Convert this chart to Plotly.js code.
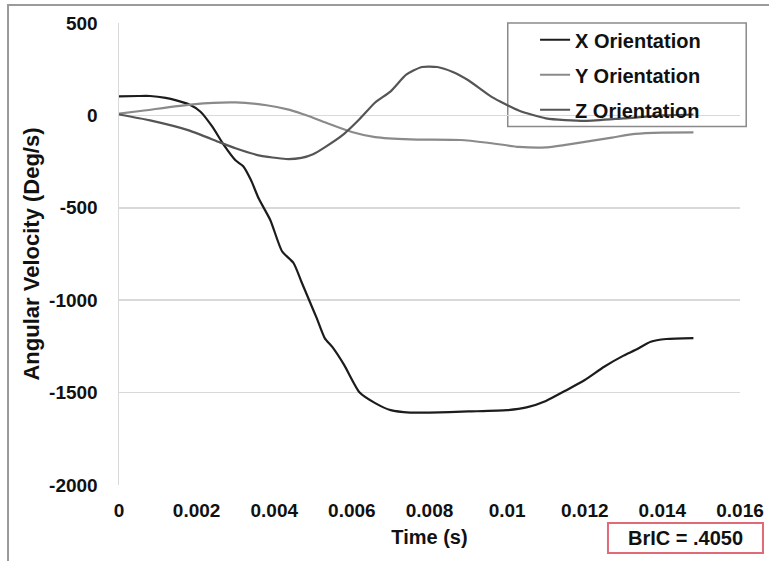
<!DOCTYPE html>
<html>
<head>
<meta charset="utf-8">
<script src="https://cdn.plot.ly/plotly-3.0.1.min.js"></script>
<style>html,body{margin:0;padding:0;background:#fff;}#chart{width:769px;height:561px;}</style>
</head>
<body>
<div id="chart"></div>
<script>
// Time (s)
const tX = [0, 0.0005, 0.0008, 0.0012, 0.0015, 0.0018, 0.0021, 0.0024, 0.0027, 0.0030, 0.0032, 0.0034, 0.0036, 0.0039, 0.0042, 0.0045, 0.0047, 0.0049, 0.0051, 0.0053, 0.0055, 0.0058, 0.0062, 0.0066, 0.0070, 0.0075, 0.0080, 0.0090, 0.0100, 0.0105, 0.0110, 0.0115, 0.0120, 0.0125, 0.0130, 0.0133, 0.0137, 0.0141, 0.0148];
const xOrientation = [103, 105, 105, 95, 80, 60, 20, -60, -160, -243, -275, -350, -450, -567, -735, -800, -900, -1000, -1100, -1205, -1254, -1350, -1500, -1557, -1595, -1608, -1608, -1602, -1595, -1580, -1545, -1490, -1432, -1360, -1300, -1270, -1225, -1210, -1205];

const tY = [0, 0.0006, 0.0019, 0.0030, 0.0038, 0.0044, 0.0049, 0.0054, 0.0060, 0.0066, 0.0075, 0.0088, 0.0095, 0.0103, 0.0110, 0.0118, 0.0127, 0.0133, 0.0140, 0.0148];
const yOrientation = [10, 25, 60, 70, 55, 30, -5, -45, -90, -118, -130, -133, -148, -170, -173, -150, -120, -100, -93, -92];

const tZ = [0, 0.0008, 0.0018, 0.0026, 0.0030, 0.0036, 0.0043, 0.0047, 0.0050, 0.0053, 0.0058, 0.0062, 0.0066, 0.0070, 0.0074, 0.0078, 0.0082, 0.0086, 0.0090, 0.0096, 0.0103, 0.0110, 0.0120, 0.0130, 0.0140, 0.0148];
const zOrientation = [5, -27, -81, -146, -178, -216, -236, -230, -210, -173, -100, -20, 70, 130, 220, 262, 262, 235, 190, 100, 27, -16, -30, -16, 0, 5];

const xTicks = [0, 0.002, 0.004, 0.006, 0.008, 0.01, 0.012, 0.014, 0.016];
const xTickText = ['0', '0.002', '0.004', '0.006', '0.008', '0.01', '0.012', '0.014', '0.016'];
const yTicks = [-2000, -1500, -1000, -500, 0, 500];
const yTickText = ['-2000', '-1500', '-1000', '-500', '0', '500'];

const FONT = 'Liberation Sans, Arial, sans-serif';

const traces = [
  {x: tX, y: xOrientation, name: 'X Orientation', legendgroup: 'a', mode: 'lines', line: {color: '#1c1c1c', width: 2.2, shape: 'spline', smoothing: 0.6}},
  {x: tY, y: yOrientation, name: 'Y Orientation', legendgroup: 'b', mode: 'lines', line: {color: '#8a8a8a', width: 2.2, shape: 'spline', smoothing: 0.6}},
  {x: tZ, y: zOrientation, name: 'Z Orientation', legendgroup: 'c', mode: 'lines', line: {color: '#555555', width: 2.2, shape: 'spline', smoothing: 0.6}}
];

const layout = {
  width: 769, height: 561,
  margin: {l: 119, r: 29, t: 23, b: 76},
  paper_bgcolor: '#ffffff', plot_bgcolor: '#ffffff',
  font: {family: FONT, color: '#111', size: 19},
  showlegend: true,
  legend: {
    x: 0.67, y: 1.006, xanchor: 'left', yanchor: 'top',
    bgcolor: 'rgba(0,0,0,0)', borderwidth: 0,
    font: {family: FONT, size: 20, color: '#111', weight: 'bold'},
    traceorder: 'grouped', tracegroupgap: 6, itemwidth: 30
  },
  xaxis: {
    range: [0, 0.016], tickvals: xTicks, ticktext: xTickText,
    showgrid: false, zeroline: false, showline: false,
    ticks: 'outside', ticklen: 8, tickcolor: 'rgba(0,0,0,0)',
    tickfont: {family: FONT, size: 19, color: '#111', weight: 'bold'},
    title: {text: 'Time (s)', font: {family: FONT, size: 20, color: '#111', weight: 'bold'}, standoff: 10}
  },
  yaxis: {
    range: [-2000, 500], tickvals: yTicks, ticktext: yTickText,
    showgrid: true, gridcolor: '#d9d9d9', gridwidth: 1.5,
    zeroline: true, zerolinecolor: '#d9d9d9', zerolinewidth: 1.5,
    showline: true, linecolor: '#d9d9d9', linewidth: 1.5,
    ticks: 'outside', ticklen: 16, tickcolor: 'rgba(0,0,0,0)',
    tickfont: {family: FONT, size: 19, color: '#111', weight: 'bold'},
    title: {text: 'Angular Velocity (Deg/s)', font: {family: FONT, size: 22, color: '#111', weight: 'bold'}, standoff: 3}
  },
  shapes: [
    {type: 'rect', xref: 'paper', yref: 'paper', x0: -0.1787, x1: 1.2, y0: -0.3, y1: 1.039, line: {color: '#9a9a9a', width: 2}, layer: 'below'},
    {type: 'rect', xref: 'paper', yref: 'paper', x0: 0.626, x1: 1.01, y0: 0.776, y1: 1.0, line: {color: '#8a8a8a', width: 1.5}, layer: 'below'},
    {type: 'rect', xref: 'paper', yref: 'paper', x0: 0.7874, x1: 1.037, y0: -0.147, y1: -0.0823, line: {color: '#e06a78', width: 2}}
  ],
  annotations: [
    {xref: 'paper', yref: 'paper', x: 0.912, y: -0.1147, xanchor: 'center', yanchor: 'middle', showarrow: false,
     text: 'BrIC = .4050', font: {family: FONT, size: 20, color: '#111', weight: 'bold'}}
  ]
};

Plotly.newPlot('chart', traces, layout, {displayModeBar: false, staticPlot: true});
</script>
</body>
</html>
